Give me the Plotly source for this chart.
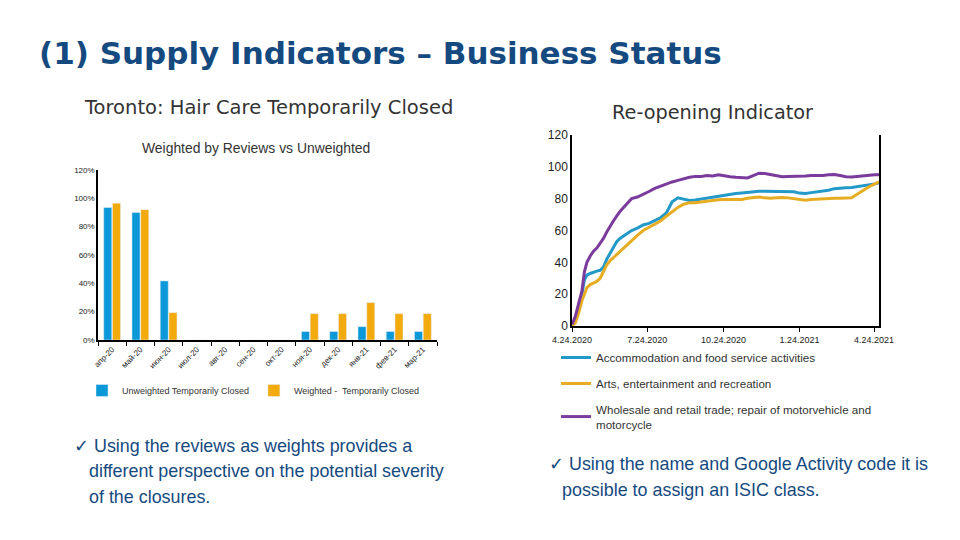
import plotly.graph_objects as go

# ---------------- Left chart data ----------------
months = ["апр-20", "май-20", "июн-20", "июл-20", "авг-20", "сен-20",
          "окт-20", "ноя-20", "дек-20", "янв-21", "фев-21", "мар-21"]
unweighted = [0.935, 0.90, 0.417, 0, 0, 0, 0, 0.06, 0.06, 0.094, 0.06, 0.06]
weighted = [0.966, 0.92, 0.193, 0, 0, 0, 0, 0.186, 0.186, 0.264, 0.186, 0.186]

# ---------------- Right chart data ----------------
dates = [
    "2020-04-24", "2020-04-28", "2020-05-02", "2020-05-06", "2020-05-09", "2020-05-12",
    "2020-05-16", "2020-05-20", "2020-05-24", "2020-05-28", "2020-06-01", "2020-06-05",
    "2020-06-09", "2020-06-13", "2020-06-17", "2020-06-21", "2020-06-28", "2020-07-05",
    "2020-07-12", "2020-07-19", "2020-07-26", "2020-08-02", "2020-08-09", "2020-08-16",
    "2020-08-23", "2020-08-30", "2020-09-06", "2020-09-13", "2020-09-20", "2020-09-27",
    "2020-10-04", "2020-10-11", "2020-10-18", "2020-10-25", "2020-11-01", "2020-11-08",
    "2020-11-15", "2020-11-22", "2020-11-29", "2020-12-06", "2020-12-13", "2020-12-20",
    "2020-12-27", "2021-01-03", "2021-01-10", "2021-01-17", "2021-01-24", "2021-01-31",
    "2021-02-07", "2021-02-14", "2021-02-21", "2021-02-28", "2021-03-07", "2021-03-14",
    "2021-03-21", "2021-03-28", "2021-04-04", "2021-04-11", "2021-04-18", "2021-04-25",
    "2021-04-30",
]
accommodation = [
    0, 4, 12, 20, 29, 32, 33, 34, 34.5, 35, 37, 42, 46, 50, 53, 55,
    57.5, 60, 61.5, 63.5, 64.5, 66, 68, 71, 78, 80.5,
    79.5, 78.8, 79.2, 79.8, 80.5, 81.3, 81.8, 82.5, 83, 83.3,
    83.6, 84, 84.3, 84.6, 84.6, 84.6, 84.6, 84.5, 84.5, 84.3,
    83.5, 83.3, 83.8, 84.3, 84.8, 85.3, 86.3, 86.7, 86.8, 87,
    87.5, 88, 88.6, 89.3, 90,
]
arts = [
    0, 2, 8, 16, 20, 24, 26, 27, 28, 30, 34, 38.5, 41, 43, 45, 47,
    50.5, 54, 57, 60, 62, 64, 66, 69, 72, 74.5,
    76.5, 77.5, 77.5, 78, 78.5, 79, 79.3, 79.5, 79.5, 79.2,
    79.5, 80.2, 80.8, 81, 80.5, 80.3, 80.6, 80.8, 80.5, 80,
    79.3, 79, 79.5, 79.8, 80, 80.2, 80.3, 80.3, 80.3, 80.6,
    83, 85.5, 87.5, 89.3, 90.5,
]
wholesale = [
    1, 6, 14, 22, 34, 40, 44, 47, 49, 52, 55, 59, 63, 66, 69, 72,
    76, 80, 81, 82.5, 84.5, 86.5, 88, 89.5, 90.5, 91.5,
    92.5, 93.5, 94, 94, 94.5, 94.3, 95, 94.3, 93.8, 93.4,
    93.2, 93, 94.5, 96, 95.8, 95, 94.2, 93.8, 94, 94,
    94.2, 94.3, 94.5, 94.5, 94.6, 95, 95.2, 94.6, 93.8, 93.6,
    94, 94.6, 95, 95, 95,
]
x_tick_vals = ["2020-04-24", "2020-07-24", "2020-10-24", "2021-01-24", "2021-04-24"]
x_tick_text = ["4.24.2020", "7.24.2020", "10.24.2020", "1.24.2021", "4.24.2021"]

FONT = "Liberation Sans"
WIDE = "DejaVu Sans"
BAR_BLUE = "#0a98d8"
BAR_ORANGE = "#f2aa0c"
L_BLUE = "#2399c9"
L_ORANGE = "#e6ad22"
L_PURPLE = "#7a3b9c"
NAVY = "#154a80"

W, H, OFF = 960, 540, 8  # page shows the figure offset by the body margin


def px(xp):
    return (xp - OFF) / W


def py(yp):
    return 1 - (yp - OFF) / H


fig = go.Figure()

fig.add_trace(go.Bar(x=months, y=unweighted, name="Unweighted Temporarily Closed",
                     marker_color=BAR_BLUE, xaxis="x", yaxis="y", legend="legend"))
fig.add_trace(go.Bar(x=months, y=weighted, name="Weighted -  Temporarily Closed",
                     marker_color=BAR_ORANGE, xaxis="x", yaxis="y", legend="legend"))

fig.add_trace(go.Scatter(x=dates, y=accommodation, mode="lines",
                         name="Accommodation and food service activities",
                         line=dict(color=L_BLUE, width=3), xaxis="x2", yaxis="y2",
                         legend="legend2", legendgroup="a"))
fig.add_trace(go.Scatter(x=dates, y=arts, mode="lines",
                         name="Arts, entertainment and recreation",
                         line=dict(color=L_ORANGE, width=3), xaxis="x2", yaxis="y2",
                         legend="legend2", legendgroup="b"))
fig.add_trace(go.Scatter(x=dates, y=wholesale, mode="lines",
                         name="Wholesale and retail trade; repair of motorvehicle and<br>motorcycle",
                         line=dict(color=L_PURPLE, width=3), xaxis="x2", yaxis="y2",
                         legend="legend2", legendgroup="c"))

fig.update_layout(
    width=W, height=H,
    margin=dict(l=0, r=0, t=0, b=0, autoexpand=False),
    paper_bgcolor="white", plot_bgcolor="white",
    font=dict(family=FONT, color="#222222"),
    barmode="group", bargap=0.38, bargroupgap=0.08,
    showlegend=True,
    xaxis=dict(domain=[px(98), px(437)], anchor="y", showline=True, linecolor="#000000",
               linewidth=1.5, ticks="outside", tickson="boundaries", ticklen=4,
               tickcolor="#000000", tickangle=-45, tickfont=dict(size=8, color="#222"),
               showgrid=False, automargin=False),
    yaxis=dict(domain=[py(340), py(170)], anchor="x", range=[0, 1.2], dtick=0.2,
               tickformat=".0%", showline=True, linecolor="#000000", linewidth=1.5,
               ticks="", showgrid=False, zeroline=False, automargin=False,
               tickfont=dict(size=8, color="#222")),
    xaxis2=dict(domain=[px(572), px(879)], anchor="y2", type="date",
                range=["2020-04-24", "2021-04-30"], tickvals=x_tick_vals,
                ticktext=x_tick_text, showline=True, linecolor="#000000", linewidth=1.5,
                ticks="outside", ticklen=4, tickcolor="#000000", showgrid=False,
                tickfont=dict(size=9, color="#222"), zeroline=False, automargin=False),
    yaxis2=dict(domain=[py(326), py(135)], anchor="x2", range=[0, 120], dtick=20,
                showline=True, mirror=True, linecolor="#000000", linewidth=1.5,
                ticks="", showgrid=False, zeroline=False, automargin=False,
                tickfont=dict(size=12, color="#222")),
    legend=dict(orientation="h", x=px(82), y=py(376), xanchor="left", yanchor="top",
                font=dict(size=9, color="#333"), bgcolor="rgba(0,0,0,0)",
                itemwidth=30),
    legend2=dict(orientation="v", x=px(556), y=py(343), xanchor="left", yanchor="top",
                 font=dict(size=11.6, color="#333"), bgcolor="rgba(0,0,0,0)",
                 tracegroupgap=7, itemwidth=30),
)

BODY = 17.9
annotations = [
    dict(text="<b>(1) Supply Indicators – Business Status</b>", x=37, y=53,
         font=dict(size=31, color=NAVY, family=WIDE), xanchor="left"),
    dict(text="Toronto: Hair Care Temporarily Closed", x=268, y=108,
         font=dict(size=19.5, color="#333", family=WIDE), xanchor="center"),
    dict(text="Weighted by Reviews vs Unweighted", x=256, y=148,
         font=dict(size=13.9, color="#333"), xanchor="center"),
    dict(text="Re-opening Indicator", x=712, y=113,
         font=dict(size=19.3, color="#333", family=WIDE), xanchor="center"),
    dict(text="✓ Using the reviews as weights provides a", x=72, y=446,
         font=dict(size=BODY, color=NAVY), xanchor="left"),
    dict(text="different perspective on the potential severity", x=87, y=471,
         font=dict(size=BODY, color=NAVY), xanchor="left"),
    dict(text="of the closures.", x=87, y=497,
         font=dict(size=BODY, color=NAVY), xanchor="left"),
    dict(text="✓ Using the name and Google Activity code it is", x=547, y=464,
         font=dict(size=BODY, color=NAVY), xanchor="left"),
    dict(text="possible to assign an ISIC class.", x=560, y=490,
         font=dict(size=BODY, color=NAVY), xanchor="left"),
]
for a in annotations:
    a["x"] = px(a["x"])
    a["y"] = py(a["y"])
    a.update(xref="paper", yref="paper", yanchor="middle", showarrow=False)
fig.update_layout(annotations=annotations)

fig.write_html("out.html")
